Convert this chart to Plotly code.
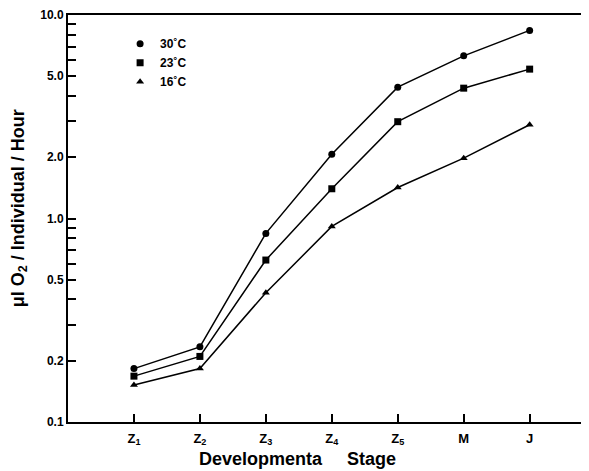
import plotly.graph_objects as go

stages = ["Z<sub>1</sub>", "Z<sub>2</sub>", "Z<sub>3</sub>", "Z<sub>4</sub>", "Z<sub>5</sub>", "M", "J"]
stage_pos = [1, 2, 3, 4, 5, 6, 7]
t30 = [0.183, 0.234, 0.845, 2.07, 4.42, 6.3, 8.4]
t23 = [0.168, 0.21, 0.625, 1.40, 2.99, 4.37, 5.42]
t16 = [0.152, 0.183, 0.432, 0.914, 1.42, 1.98, 2.89]
series = [("30\u02daC", t30, "circle"), ("23\u02daC", t23, "square"), ("16\u02daC", t16, "triangle-up")]

ytick_vals = [0.1, 0.2, 0.5, 1.0, 2.0, 5.0, 10.0]
ytick_text = ["0.1", "0.2", "0.5", "1.0", "2.0", "5.0", "10.0"]
yminor_vals = [0.3, 0.4, 0.6, 0.7, 0.8, 0.9, 3, 4, 6, 7, 8, 9]

FONT = "Liberation Sans"
fig = go.Figure()
for name, vals, sym in series:
    fig.add_trace(go.Scatter(x=stage_pos, y=vals, mode="lines+markers",
                             line=dict(color="black", width=1.5),
                             marker=dict(symbol=sym, size=7, color="black"),
                             showlegend=False))
    fig.add_trace(go.Scatter(x=[None], y=[None], mode="markers", name=name,
                             marker=dict(symbol=sym, size=7, color="black")))

# page body has an 8px margin, so the figure is sized/offset to compensate
fig.update_layout(
    width=581, height=463,
    margin=dict(l=60, r=0, t=3, b=49),
    plot_bgcolor="white", paper_bgcolor="white",
    font=dict(family=FONT, color="black", size=12),
    legend=dict(x=0.1, y=0.965, xanchor="left", yanchor="top",
                font=dict(size=12, family=FONT, weight="bold"),
                itemwidth=30, tracegroupgap=0, bgcolor="rgba(0,0,0,0)"),
    xaxis=dict(range=[0, 7.9], tickvals=stage_pos, ticktext=stages,
               ticks="inside", ticklen=8, tickwidth=1.5, tickcolor="black",
               showline=True, linecolor="black", linewidth=2, mirror=True,
               showgrid=False, zeroline=False, ticklabelstandoff=3,
               tickfont=dict(size=13, family=FONT, weight="bold")),
    yaxis=dict(type="log", range=[-1, 1], tickvals=ytick_vals, ticktext=ytick_text,
               ticks="inside", ticklen=8, tickwidth=1.5, tickcolor="black",
               showline=True, linecolor="black", linewidth=2,
               showgrid=False, zeroline=False, ticklabeloverflow="allow",
               tickfont=dict(size=12, family=FONT, weight="bold"),
               minor=dict(tickvals=yminor_vals, ticks="inside", ticklen=8,
                          tickwidth=1.5, tickcolor="black", showgrid=False)),
    annotations=[
        dict(text="\u03bcl O<sub>2</sub> / Individual / Hour", textangle=-90,
             xref="paper", yref="paper", x=-0.094, y=0.525, showarrow=False,
             xanchor="center", yanchor="middle",
             font=dict(size=18, family=FONT, weight="bold")),
        dict(text="Developmenta\u00a0\u00a0\u00a0\u00a0\u00a0Stage",
             xref="paper", yref="paper", x=0.441, y=-0.09, showarrow=False,
             xanchor="center", yanchor="middle",
             font=dict(size=18, family=FONT, weight="bold")),
    ],
)
fig.write_html("out.html")
